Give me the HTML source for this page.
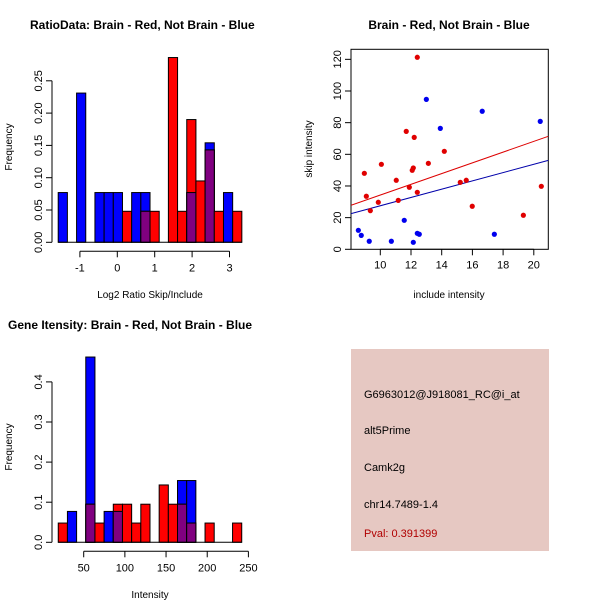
<!DOCTYPE html>
<html><head><meta charset="utf-8"><style>
body{margin:0;background:#fff}
svg{display:block;font-family:"Liberation Sans",sans-serif}
</style></head><body>
<svg id="s" width="600" height="600" xmlns="http://www.w3.org/2000/svg">
<rect width="600" height="600" fill="#fff"/>
<g id="p1"></g>
<g id="p2"></g>
<g id="p3"></g>
<g>
<rect x="351" y="349" width="198" height="202" fill="#e6c8c2"/>
<text x="364" y="398" font-size="11">G6963012@J918081_RC@i_at</text>
<text x="364" y="434" font-size="11">alt5Prime</text>
<text x="364" y="471" font-size="11">Camk2g</text>
<text x="364" y="508" font-size="11">chr14.7489-1.4</text>
<text x="364" y="537" font-size="11" fill="#b00000">Pval: 0.391399</text>
</g>
</svg>
<script>
// Histogram 1: Log2 ratio
const h1Start=-1.58, h1Width=0.2455;
const h1Blue=[0.077,0,0.231,0,0.077,0.077,0.077,0,0.077,0.077,0,0,0,0,0.077,0,0.154,0,0.077,0];
const h1Red=[0,0,0,0,0,0,0,0.048,0,0.048,0.048,0,0.286,0.048,0.190,0.095,0.143,0.048,0,0.048];
const h1XTicks=[-1,0,1,2,3];
const h1YTicks=[0,0.05,0.10,0.15,0.20,0.25];
const h1YLabels=["0.00","0.05","0.10","0.15","0.20","0.25"];
// Histogram 2: Intensity
const h2Start=19.1, h2Width=11.14;
const h2Blue=[0,0.077,0,0.462,0,0.077,0.077,0,0,0,0,0,0,0.154,0.154,0,0,0,0,0];
const h2Red=[0.048,0,0,0.095,0.048,0,0.095,0.095,0.048,0.095,0,0.143,0.095,0.095,0.048,0,0.048,0,0,0.048];
const h2XTicks=[50,100,150,200,250];
const h2YTicks=[0,0.1,0.2,0.3,0.4];
const h2YLabels=["0.0","0.1","0.2","0.3","0.4"];
// Scatter
const redX=[8.96,9.09,9.35,9.87,10.07,11.04,11.17,11.69,11.89,12.08,12.15,12.21,12.41,12.41,13.13,14.17,15.21,15.6,15.99,19.32,20.49];
const redY=[48,33.5,24.4,29.7,53.7,43.6,30.9,74.5,39.2,49.9,51.4,70.7,121.3,36,54.3,61.9,42.3,43.6,27.2,21.5,39.8];
const blueX=[8.57,8.76,9.28,10.72,11.56,12.15,12.41,12.54,13.0,13.91,16.64,17.43,20.42];
const blueY=[12,8.8,5.1,5.1,18.3,4.4,10.1,9.5,94.7,76.4,87.2,9.5,80.8];
const redFit=[0.37,3.39];
const blueFit=[1.3,2.62];
const scXTicks=[10,12,14,16,18,20];
const scYTicks=[0,20,40,60,80,100,120];

const NS="http://www.w3.org/2000/svg";
function mk(parent,tag,attrs,txt){const e=document.createElementNS(NS,tag);for(const k in attrs)e.setAttribute(k,attrs[k]);if(txt!==undefined)e.textContent=txt;parent.appendChild(e);return e;}

function hist(g,cfg){
  const xs=v=>cfg.x0+(v-cfg.v0)*cfg.kx, ys=v=>cfg.y0-v*cfg.ky;
  mk(g,'text',{x:cfg.tx,y:cfg.ty,'font-size':12,'font-weight':'bold'},cfg.title);
  for(let i=0;i<cfg.blue.length;i++){
    const a=xs(cfg.start+i*cfg.w), b=xs(cfg.start+(i+1)*cfg.w);
    const bl=cfg.blue[i], rd=cfg.red[i];
    const draw=(v,c,nm)=>{if(v<=0)return;const r=mk(g,'rect',{x:a,y:ys(v),width:b-a,height:ys(0)-ys(v),fill:c,stroke:'#000','stroke-width':1});
      
      };
    draw(bl,'#0000ff','blue-bar');
    draw(rd,'#ff0000','red-bar');
    draw(Math.min(bl,rd),'#800080','overlap-bar');
  }
  mk(g,'line',{x1:xs(cfg.start),x2:xs(cfg.start+cfg.blue.length*cfg.w),y1:ys(0),y2:ys(0),stroke:'#000'});
  // x axis
  const xa=mk(g,'g',{});
  const ay=cfg.y0+9;
  mk(xa,'line',{x1:xs(cfg.xt[0]),x2:xs(cfg.xt[cfg.xt.length-1]),y1:ay,y2:ay,stroke:'#000'});
  cfg.xt.forEach(t=>{mk(xa,'line',{x1:xs(t),x2:xs(t),y1:ay,y2:ay+6,stroke:'#000'});mk(xa,'text',{x:xs(t),y:ay+20,'font-size':11,'text-anchor':'middle'},t);});
  const xt=mk(g,'text',{x:cfg.xlx,y:cfg.xly,'font-size':10,'text-anchor':'middle'},cfg.xl);
  const ya=mk(g,'g',{});
  const ax=cfg.yax;
  mk(ya,'line',{x1:ax,x2:ax,y1:ys(cfg.yt[0]),y2:ys(cfg.yt[cfg.yt.length-1]),stroke:'#000'});
  cfg.yt.forEach((t,i)=>{mk(ya,'line',{x1:ax-6,x2:ax,y1:ys(t),y2:ys(t),stroke:'#000'});mk(ya,'text',{x:ax-10,y:ys(t),'font-size':11,'text-anchor':'middle',transform:`rotate(-90 ${ax-10} ${ys(t)})`},cfg.yl[i]);});
  const yt=mk(g,'text',{x:12,y:cfg.ylabY,'font-size':10,'text-anchor':'middle',transform:`rotate(-90 12 ${cfg.ylabY})`},'Frequency');
}
hist(document.getElementById('p1'),{x0:117.3,v0:0,kx:37.4,y0:242.3,ky:646,start:h1Start,w:h1Width,blue:h1Blue,red:h1Red,
 xt:h1XTicks,yt:h1YTicks,yl:h1YLabels,yax:52,title:'RatioData: Brain - Red, Not Brain - Blue',tx:30,ty:29,xl:'Log2 Ratio Skip/Include',xlx:150,xly:298,ylabY:147});
hist(document.getElementById('p3'),{x0:83.7,v0:50,kx:0.8235,y0:542.3,ky:401,start:h2Start,w:h2Width,blue:h2Blue,red:h2Red,
 xt:h2XTicks,yt:h2YTicks,yl:h2YLabels,yax:52,title:'Gene Itensity: Brain - Red, Not Brain - Blue',tx:8,ty:329,xl:'Intensity',xlx:150,xly:598,ylabY:447});

// scatter
(function(){
  const g=document.getElementById('p2');
  const L=351,R=548.3,T=49.3,B=249.3;
  const xs=v=>380.3+(v-10)*15.35, ys=v=>249.3-v*1.583;
  mk(g,'text',{x:449,y:29,'font-size':12,'font-weight':'bold','text-anchor':'middle'},'Brain - Red, Not Brain - Blue');
  const f=mk(g,'rect',{x:L,y:T,width:R-L,height:B-T,fill:'none',stroke:'#000'});
  
  mk(g,'defs',{}).innerHTML='<clipPath id="cp"><rect x="351" y="49.3" width="197.3" height="200"/></clipPath>';
  const v0=(L-380.3)/15.35+10, v1=(R-380.3)/15.35+10;
  [[redFit,'#dd0000','red-regression-line'],[blueFit,'#0000aa','blue-regression-line']].forEach(([c,col,nm])=>{
    const l=mk(g,'line',{x1:xs(v0),y1:ys(c[0]+c[1]*v0),x2:xs(v1),y2:ys(c[0]+c[1]*v1),stroke:col,'stroke-width':1,'clip-path':'url(#cp)'});
    
  });
  redX.forEach((x,i)=>{const c=mk(g,'circle',{cx:xs(x),cy:ys(redY[i]),r:2.6,fill:'#e00000'});
    
    });
  blueX.forEach((x,i)=>{const c=mk(g,'circle',{cx:xs(x),cy:ys(blueY[i]),r:2.6,fill:'#0000ee'});
    
    });
  const xa=mk(g,'g',{});
  mk(xa,'line',{x1:xs(10),x2:xs(20),y1:B,y2:B,stroke:'#000'});
  scXTicks.forEach(t=>{mk(xa,'line',{x1:xs(t),x2:xs(t),y1:B,y2:B+6,stroke:'#000'});mk(xa,'text',{x:xs(t),y:B+19,'font-size':11,'text-anchor':'middle'},t);});
  scYTicks.forEach(t=>{mk(g,'line',{x1:L-6,x2:L,y1:ys(t),y2:ys(t),stroke:'#000'});mk(g,'text',{x:L-10,y:ys(t),'font-size':11,'text-anchor':'middle',transform:`rotate(-90 ${L-10} ${ys(t)})`},t);});
  mk(g,'text',{x:449,y:298,'font-size':10,'text-anchor':'middle'},'include intensity');
  mk(g,'text',{x:312,y:149,'font-size':10,'text-anchor':'middle',transform:'rotate(-90 312 149)'},'skip intensity');
})();
</script>
</body></html>
